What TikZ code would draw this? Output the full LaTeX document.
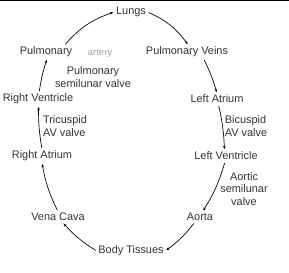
\documentclass[tikz,border=0pt]{standalone}
\usepackage{fontspec}
\setmainfont{Liberation Sans}
\usetikzlibrary{arrows.meta}
\tikzset{
  organ/.style={
    inner sep=1pt,
    text=black!80,
    font=\fontsize{8.2}{9.5}\selectfont
  },
  valve/.style={
    organ,
    align=center
  },
  faint/.style={
    organ,
    text=black!35,
    font=\fontsize{7.2}{8}\selectfont
  },
  flow/.style={
    line width=0.5pt,
    -{Stealth[length=2.4pt,width=2pt]},
    shorten <=1pt,
    shorten >=1pt
  }
}

\begin{document}
\begin{tikzpicture}[x=0.75pt,y=-0.75pt]
  \useasboundingbox (0,0) rectangle (289,272);
  \draw[line width=1pt] (0,0.7) -- (289,0.7);
  % chambers and vessels
  \node[organ] (lungs) at (131,12) {Lungs};
  \node[organ] (pulmonary) at (46,52) {Pulmonary};
  \node[faint] (artery) at (100,53) {artery};
  \node[organ] (pveins) at (187,52) {Pulmonary Veins};
  \node[organ] (rventricle) at (38,99) {Right Ventricle};
  \node[organ] (latrium) at (217,99) {Left Atrium};
  \node[organ] (ratrium) at (42,156) {Right Atrium};
  \node[organ] (lventricle) at (226,156) {Left Ventricle};
  \node[organ] (venacava) at (58,217) {Vena Cava};
  \node[organ] (aorta) at (200,217) {Aorta};
  \node[organ] (tissues) at (131,251) {Body Tissues};
  % valves
  \node[valve] (pvalve) at (93,77) {Pulmonary\\semilunar valve};
  \node[valve, align=left] (tvalve) at (65,126) {Tricuspid\\AV valve};
  \node[valve, align=left] (bvalve) at (246,126) {Bicuspid\\AV valve};
  \node[valve] (avalve) at (244,189) {Aortic\\semilunar\\valve};
  % circulation
  \draw[flow] (pulmonary.20) to[bend left=15] (lungs.west);
  \draw[flow] (lungs.east) to[bend left=15] (pveins.78);
  \draw[flow] (pveins.-22) to[bend left=5] (latrium.north);
  \draw[flow] (latrium.-75) to[bend left=5] (lventricle.105);
  \draw[flow] (lventricle.-100) to[bend left=8] (aorta.65);
  \draw[flow] (aorta.-135) to[bend left=8] (tissues.east);
  \draw[flow] (tissues.west) to[bend left=8] (venacava.-50);
  \draw[flow] (venacava.north) to[bend left=8] (ratrium.south);
  \draw[flow] (ratrium.north) to[bend left=5] (rventricle.-85);
  \draw[flow] (rventricle.80) to[bend left=5] (pulmonary.-80);
\end{tikzpicture}
\end{document}
